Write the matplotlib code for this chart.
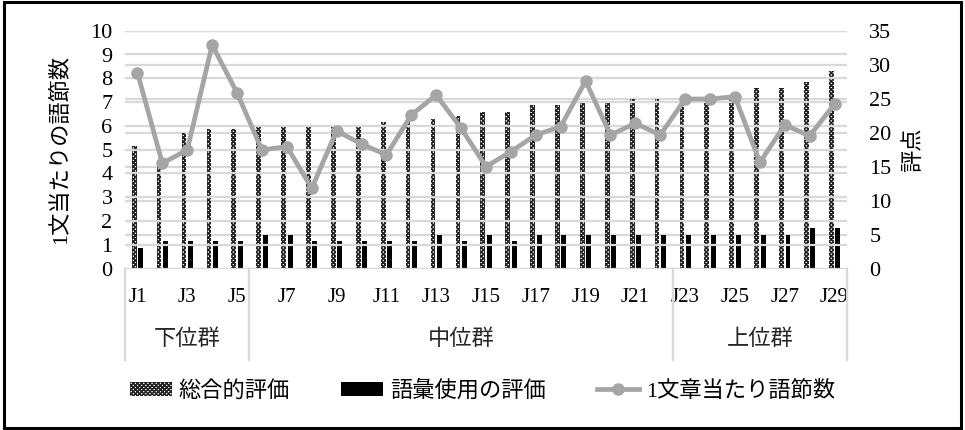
import numpy as np
import matplotlib
matplotlib.use("Agg")
import matplotlib.pyplot as plt
import matplotlib.transforms as mtransforms
from matplotlib.patches import Patch, Rectangle
from matplotlib.lines import Line2D

plt.rcParams['font.family'] = ['Liberation Serif', 'Noto Sans CJK JP']
plt.rcParams['hatch.linewidth'] = 1.1

# ---- data ----
labels = [f"J{i}" for i in range(1, 30)]
total_score = [18, 16, 20, 20.5, 20.5, 21, 21, 21, 21, 21, 21.5, 21.5, 22, 22.5,
               23, 23, 24, 24, 24.5, 24.5, 25, 25, 25, 25, 25.5, 26.5, 26.5, 27.5, 29]
vocab_score = [3, 4, 4, 4, 4, 5, 5, 4, 4, 4, 4, 4, 5, 4, 5, 4, 5, 5, 5, 5, 5, 5,
               5, 5, 5, 5, 5, 6, 6]
phrases_per_sentence = [8.24, 4.43, 4.99, 9.40, 7.39, 4.99, 5.13, 3.38, 5.79, 5.24,
                        4.78, 6.46, 7.30, 5.90, 4.29, 4.92, 5.62, 5.97, 7.89, 5.62,
                        6.11, 5.62, 7.13, 7.13, 7.23, 4.47, 6.04, 5.58, 6.92]
groups = ["下位群", "中位群", "上位群"]
group_bounds = [(0, 4), (5, 21), (22, 28)]

legend_labels = ["総合的評価", "語彙使用の評価", "1文章当たり語節数"]

# ---- figure ----
W, H = 965, 430
fig = plt.figure(figsize=(W / 100, H / 100), dpi=100)
ax_left, ax_right_px, ax_top, ax_bot = 125, 847, 30.7, 268.7
ax = fig.add_axes([ax_left / W, 1 - ax_bot / H,
                   (ax_right_px - ax_left) / W, (ax_bot - ax_top) / H])
ax2 = ax.twinx()

x = np.arange(len(labels))
grey_line = '#a5a5a5'
grid_col = '#d9d9d9'
hatch_pat = 'xxxxxxxx'

# bars on the score axis
ax2.bar(x - 0.13, total_score, width=0.19, color='white', edgecolor='#222222',
        linewidth=0, hatch=hatch_pat, zorder=2)
ax2.bar(x + 0.13, vocab_score, width=0.2, color='black', linewidth=0, zorder=2)

# line on the phrase-count axis, drawn on top
ax.set_zorder(ax2.get_zorder() + 1)
ax.patch.set_visible(False)
ax.plot(x, phrases_per_sentence, color=grey_line, lw=3.4, marker='o',
        markersize=8, markerfacecolor=grey_line, markeredgecolor=grey_line,
        zorder=3)

ax.set_xlim(-0.5, len(labels) - 0.5)
ax.set_ylim(0, 10)
ax2.set_ylim(0, 35)
ax.set_yticks(np.arange(0, 11, 1))
ax2.set_yticks(np.arange(0, 36, 5))
ax.yaxis.grid(True, color=grid_col, lw=1.6)
ax2.yaxis.grid(True, color=grid_col, lw=1.6, zorder=0)
ax2.set_axisbelow(True)
for a in (ax, ax2):
    for s in a.spines.values():
        s.set_visible(False)
    a.tick_params(axis='y', length=0, labelsize=16)
ax.tick_params(axis='y', pad=9)
ax2.tick_params(axis='y', pad=16)

ax.set_xticks(x[::2])
ax.set_xticklabels(labels[::2], fontsize=15)
ax.tick_params(axis='x', length=0, pad=14)

ax.set_ylabel("1文当たりの語節数", fontsize=16, labelpad=14)
# secondary axis title
fig.text(914 / W, 1 - 150 / H, "評点", fontsize=16, rotation=90,
         rotation_mode='default', ha='center', va='center')

# category box below the plot
trans = mtransforms.blended_transform_factory(ax.transData, ax.transAxes)
y_box_bottom = -(360 - ax_bot) / (ax_bot - ax_top)
for xb in [-0.5, 4.5, 21.5, 28.5]:
    ax.add_line(Line2D([xb, xb], [0, y_box_bottom], transform=trans,
                       color=grid_col, lw=1.6, clip_on=False))
y_group = -(340 - ax_bot) / (ax_bot - ax_top)
for name, (a0, a1) in zip(groups, group_bounds):
    ax.text((a0 + a1) / 2, y_group, name, transform=trans, ha='center',
            va='center', fontsize=16, color='#262626')

# legend
handles = [Patch(facecolor='white', edgecolor='#222222', linewidth=0, hatch=hatch_pat),
           Patch(facecolor='black', linewidth=0),
           Line2D([], [], color=grey_line, lw=3.4, marker='o', markersize=8)]
fig.legend(handles, legend_labels, loc='center', bbox_to_anchor=(0.5, 1 - 391 / H),
           ncol=3, frameon=False, fontsize=16, handlelength=1.9, handleheight=0.55,
           columnspacing=2.3, handletextpad=0.3)

# outer frame
fig.add_artist(Rectangle((4 / W, 2 / H), (W - 8) / W, (H - 4) / H,
                         transform=fig.transFigure, fill=False,
                         edgecolor='black', lw=2.2))

fig.savefig("out.png", dpi=100)
